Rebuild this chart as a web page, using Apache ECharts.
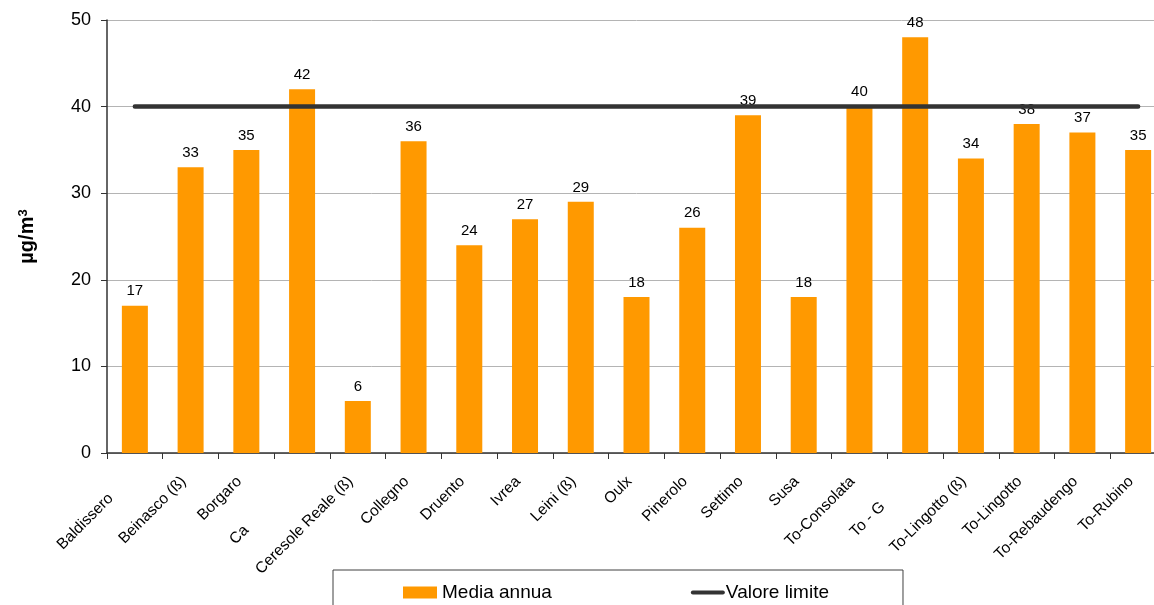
<!DOCTYPE html>
<html>
<head>
<meta charset="utf-8">
<script src="https://cdn.jsdelivr.net/npm/echarts@6/dist/echarts.min.js"></script>
<style>
  html, body { margin: 0; padding: 0; background: #fff; overflow: hidden; }
  #chart { width: 1180px; height: 605px; }
</style>
</head>
<body>
<div id="chart"></div>
<script>
// Stations (two names are cut short in the printed label row)
const stations = [
  'Baldissero', 'Beinasco (ß)', 'Borgaro', 'Ca', 'Ceresole Reale (ß)', 'Collegno',
  'Druento', 'Ivrea', 'Leini (ß)', 'Oulx', 'Pinerolo', 'Settimo', 'Susa',
  'To-Consolata', 'To - G', 'To-Lingotto (ß)', 'To-Lingotto', 'To-Rebaudengo', 'To-Rubino'
];
// Annual mean per station, µg/m³
const mediaAnnua = [17, 33, 35, 42, 6, 36, 24, 27, 29, 18, 26, 39, 18, 40, 48, 34, 38, 37, 35];
// Annual limit value
const valoreLimite = [40, 40, 40, 40, 40, 40, 40, 40, 40, 40, 40, 40, 40, 40, 40, 40, 40, 40, 40];

// Blank space after each rotated label (px); some labels are pushed further down-left
const DEFAULT_TAIL = 10;
const labelTail = { 'Baldissero': 34, 'Ca': 79, 'To - G': 46 };

const FONT = '"Liberation Sans", Arial, sans-serif';

const chart = echarts.init(document.getElementById('chart'), null, { renderer: 'canvas' });

const tailRich = {};
[DEFAULT_TAIL].concat(Object.values(labelTail)).forEach(w => {
  tailRich['g' + w] = { width: w, fontSize: 15.5 };
});

chart.setOption({
  animation: false,
  textStyle: { fontFamily: FONT },
  grid: { left: 107, top: 20, width: 1059, height: 433, containLabel: false },
  legend: {
    left: 333,
    top: 570,
    orient: 'horizontal',
    padding: [13, 74, 16, 70],
    itemGap: 139,
    itemWidth: 34,
    itemHeight: 12,
    borderColor: '#404040',
    borderWidth: 1,
    textStyle: { fontFamily: FONT, fontSize: 19, color: '#000' },
    data: [
      { name: 'Media annua', icon: 'rect' },
      {
        name: 'Valore limite',
        icon: 'path://M2,0 L33,0 A2,2 0 0 1 33,4 L2,4 A2,2 0 0 1 2,0 Z',
        itemStyle: { color: '#333333' },
        textStyle: { padding: [0, 0, 0, -4] }
      }
    ]
  },
  xAxis: {
    type: 'category',
    data: stations,
    boundaryGap: true,
    axisLine: { lineStyle: { color: '#333333', width: 1.5 } },
    axisTick: { show: true, length: 6, lineStyle: { color: '#333333' } },
    axisLabel: {
      rotate: 45,
      interval: 0,
      margin: 19,
      fontFamily: FONT,
      fontSize: 15.5,
      color: '#000',
      formatter: function (v) {
        const w = labelTail[v] || DEFAULT_TAIL;
        return v + '{g' + w + '| }';
      },
      rich: tailRich
    }
  },
  yAxis: {
    type: 'value',
    min: 0,
    max: 50,
    interval: 10,
    name: 'µg/m{s|3}',
    nameLocation: 'middle',
    nameRotate: 90,
    nameGap: 70,
    nameTextStyle: {
      fontFamily: FONT, fontSize: 20, fontWeight: 'bold', color: '#000',
      rich: {
        s: { fontFamily: FONT, fontSize: 13, fontWeight: 'bold', color: '#000', verticalAlign: 'top', lineHeight: 16 }
      }
    },
    axisLine: { show: true, lineStyle: { color: '#333333', width: 1.5 } },
    axisTick: { show: true, length: 6, lineStyle: { color: '#333333' } },
    axisLabel: { fontFamily: FONT, fontSize: 18, color: '#000', margin: 16 },
    splitLine: { show: true, lineStyle: { color: '#b4b4b4', width: 1 } }
  },
  series: [
    {
      name: 'Media annua',
      type: 'bar',
      data: mediaAnnua,
      barWidth: 26,
      itemStyle: { color: '#FF9900' },
      label: {
        show: true,
        position: 'top',
        distance: 7,
        fontFamily: FONT,
        fontSize: 15,
        color: '#000'
      },
      z: 2
    },
    {
      name: 'Valore limite',
      type: 'line',
      data: valoreLimite,
      symbol: 'none',
      lineStyle: { color: '#333333', width: 4.5, cap: 'round' },
      itemStyle: { color: '#333333' },
      z: 3
    }
  ]
});
</script>
</body>
</html>
